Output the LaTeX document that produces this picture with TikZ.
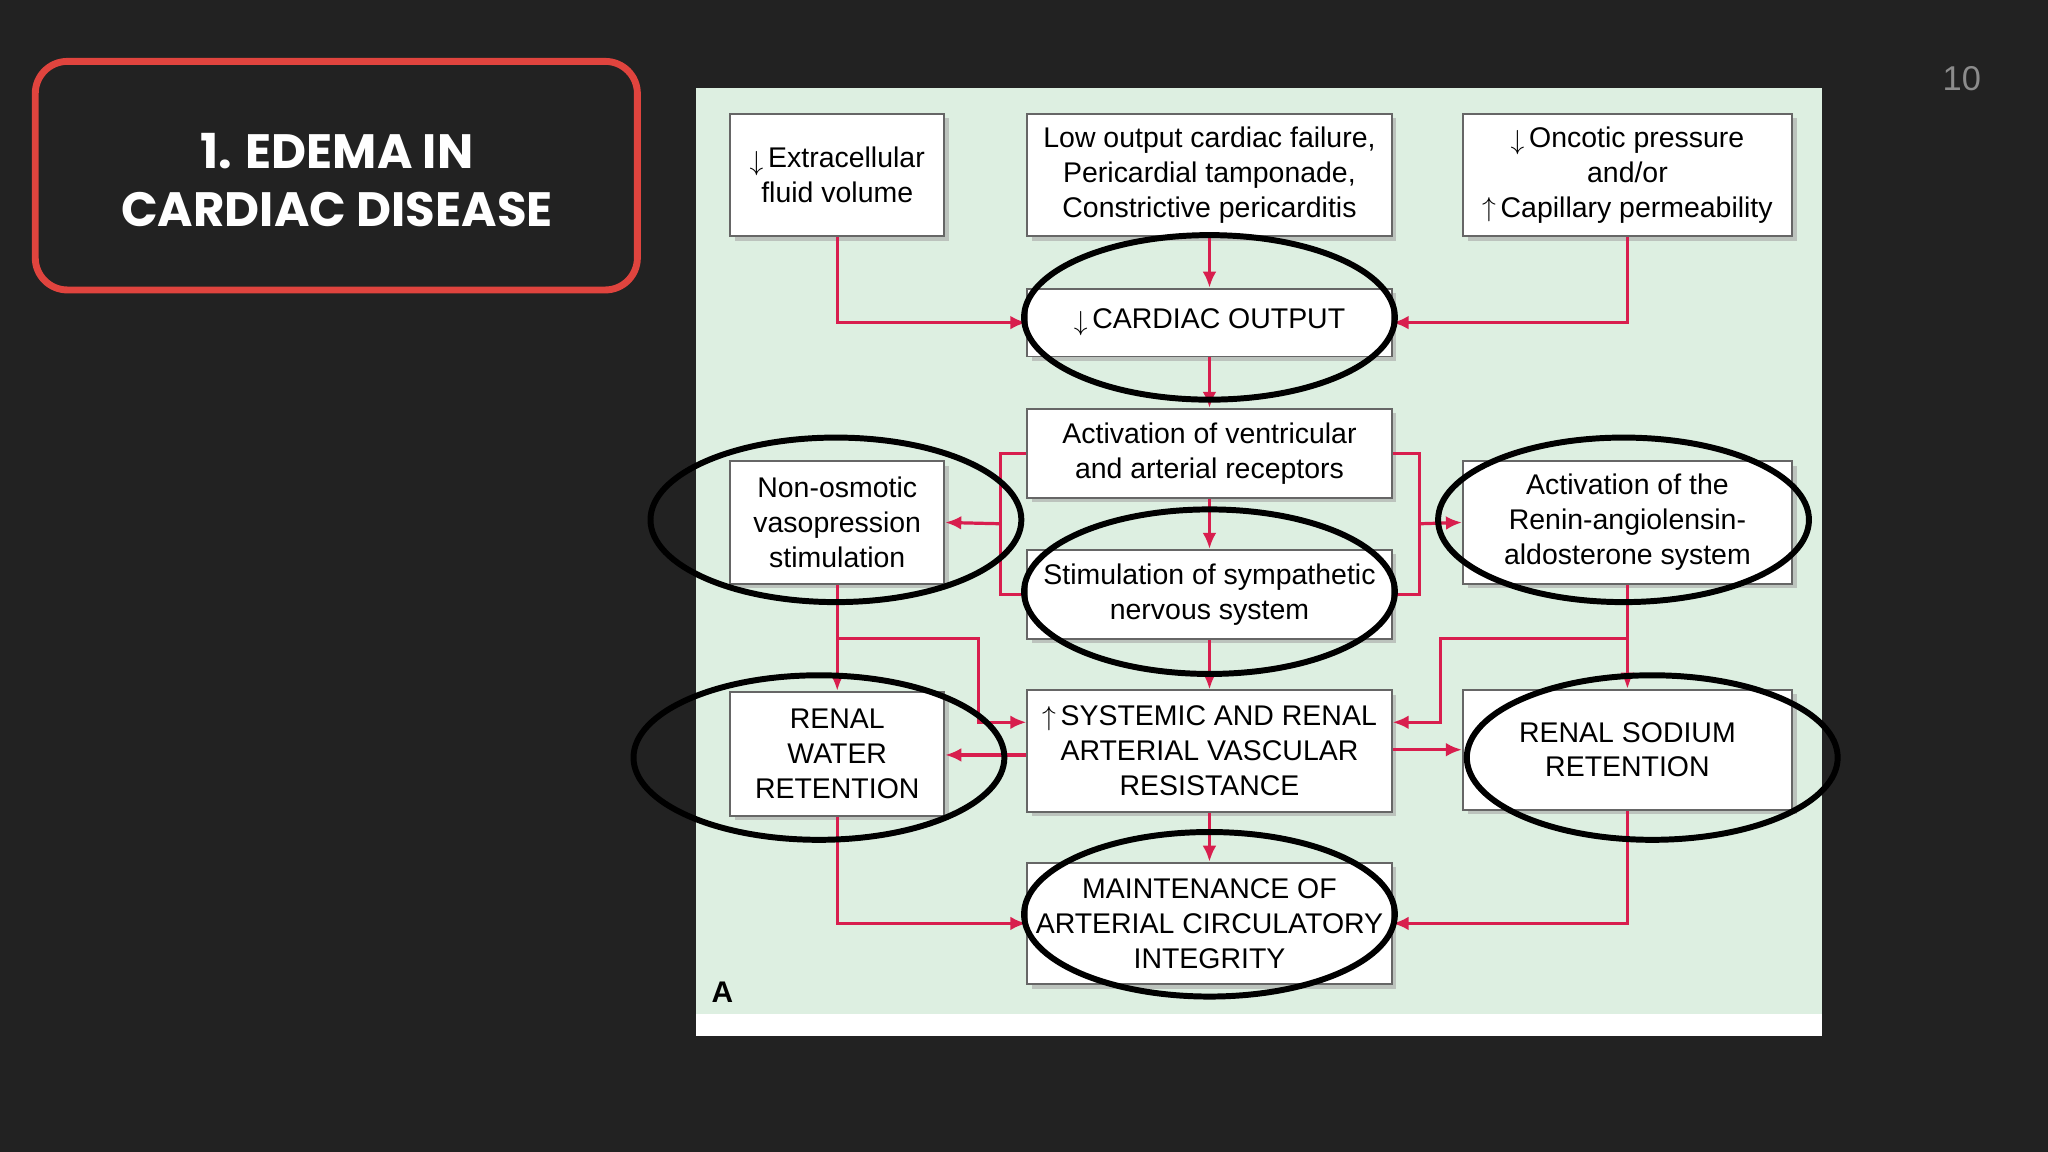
\documentclass[tikz,border=0pt]{standalone}
\usepackage{fontspec}
\setmainfont{Liberation Sans}
\newfontfamily\titlefont{Poppins}
\usetikzlibrary{arrows.meta,calc,shadows}
\definecolor{bg}{HTML}{222222}
\definecolor{panel}{HTML}{DDEFE1}
\definecolor{arr}{HTML}{D81E4E}
\definecolor{tred}{HTML}{E0443E}
\newcommand\dn{\raisebox{-0.15ex}{$\downarrow$}\,}
\newcommand\upa{\raisebox{0.05ex}{$\uparrow$}\,}
\begin{document}
\begin{tikzpicture}[x=0.02cm,y=-0.02cm,
  bx/.style={draw=black!60,fill=white,line width=0.8pt,align=center,inner sep=0pt,
    font=\fontsize{12.4}{15.2}\selectfont,drop shadow={shadow xshift=2pt,shadow yshift=-2pt,fill=black!35,opacity=0.6}},
  ar/.style={draw=arr,line width=1.4pt,-{Latex[length=7pt,width=6pt]}},
  ln/.style={draw=arr,line width=1.4pt},
  ov/.style={draw=black,line width=2.6pt}]
\fill[bg] (0,0) rectangle (1568,882);
\useasboundingbox (0,0) rectangle (1568,882);
\draw[tred,line width=3pt,rounded corners=14pt] (27,47) rectangle (488,222);
\node[text=white,align=center,font=\titlefont\bfseries\fontsize{21}{25}\selectfont] (title) at (258,138) {1. EDEMA IN\\CARDIAC DISEASE};
\node[text=black!45,font=\fontsize{15}{18}\selectfont] (pg) at (1502,60) {10};
\fill[white] (533,67) rectangle (1395,793);
\fill[panel] (533,67) rectangle (1395,776);
\node[font=\bfseries\fontsize{13}{15}\selectfont] (lblA) at (553,760) {A};
\node[bx,minimum width=3.28cm,minimum height=1.88cm] (ext) at (641,134) {\dn Extracellular\\fluid volume};
\node[bx,minimum width=5.58cm,minimum height=1.88cm] (low) at (926,134) {Low output cardiac failure,\\Pericardial tamponade,\\Constrictive pericarditis};
\node[bx,minimum width=5.04cm,minimum height=1.88cm] (onc) at (1246,134) {\dn Oncotic pressure\\and/or\\\upa Capillary permeability};
\node[bx,minimum width=5.58cm,minimum height=1.04cm] (co) at (926,247) {\dn CARDIAC OUTPUT};
\node[bx,minimum width=5.58cm,minimum height=1.36cm] (act) at (926,347) {Activation of ventricular\\and arterial receptors};
\node[bx,minimum width=3.28cm,minimum height=1.88cm] (non) at (641,400) {Non-osmotic\\vasopression\\stimulation};
\node[bx,minimum width=5.58cm,minimum height=1.36cm] (stim) at (926,455) {Stimulation of sympathetic\\nervous system};
\node[bx,minimum width=5.04cm,minimum height=1.88cm] (raas) at (1246,400) {Activation of the\\Renin-angiolensin-\\aldosterone system};
\node[bx,minimum width=3.28cm,minimum height=1.9cm] (rwr) at (641,577) {RENAL\\WATER\\RETENTION};
\node[bx,minimum width=5.58cm,minimum height=1.86cm] (sys) at (926,575) {\upa SYSTEMIC AND RENAL\\ARTERIAL VASCULAR\\RESISTANCE};
\node[bx,minimum width=5.04cm,minimum height=1.84cm] (rsr) at (1246,574) {RENAL SODIUM\\RETENTION};
\node[bx,minimum width=5.58cm,minimum height=1.86cm] (mai) at (926,707) {MAINTENANCE OF\\ARTERIAL CIRCULATORY\\INTEGRITY};
\draw[ar] (ext.south) |- (co.west);
\draw[ar] (onc.south) |- (co.east);
\draw[ar] (low.south) -- (co.north);
\draw[ar] (co.south) -- (act.north);
\draw[ar] (act.south) -- (stim.north);
\coordinate (lb) at (766,401);
\coordinate (rb) at (1087,401);
\draw[ln] (act.west) -| (766,455) -- (stim.west);
\draw[ar] (lb) -- (non.east);
\draw[ln] (act.east) -| (1087,455) -- (stim.east);
\draw[ar] (rb) -- (raas.west);
\draw[ar] (non.south) -- (rwr.north);
\draw[ar] (641,489) -| (749,553) -- (sys.west|-0,553);
\draw[ar] (raas.south) -- (rsr.north);
\draw[ar] (1246,489) -| (1103,553) -- (sys.east|-0,553);
\draw[ar] (sys.west|-0,578) -- (rwr.east|-0,578);
\draw[ar] (sys.east|-0,574) -- (rsr.west|-0,574);
\draw[ar] (stim.south) -- (sys.north);
\draw[ar] (sys.south) -- (mai.north);
\draw[ar] (rwr.south) |- (mai.west);
\draw[ar] (rsr.south) |- (mai.east);
\draw[ov] (926,243) ellipse [x radius=2.84cm,y radius=1.26cm];
\draw[ov] (640,398) ellipse [x radius=2.84cm,y radius=1.26cm];
\draw[ov] (926,453) ellipse [x radius=2.84cm,y radius=1.26cm];
\draw[ov] (1243,398) ellipse [x radius=2.84cm,y radius=1.26cm];
\draw[ov] (627,580) ellipse [x radius=2.84cm,y radius=1.26cm];
\draw[ov] (1265,580) ellipse [x radius=2.84cm,y radius=1.26cm];
\draw[ov] (926,700) ellipse [x radius=2.84cm,y radius=1.26cm];
\end{tikzpicture}
\end{document}
